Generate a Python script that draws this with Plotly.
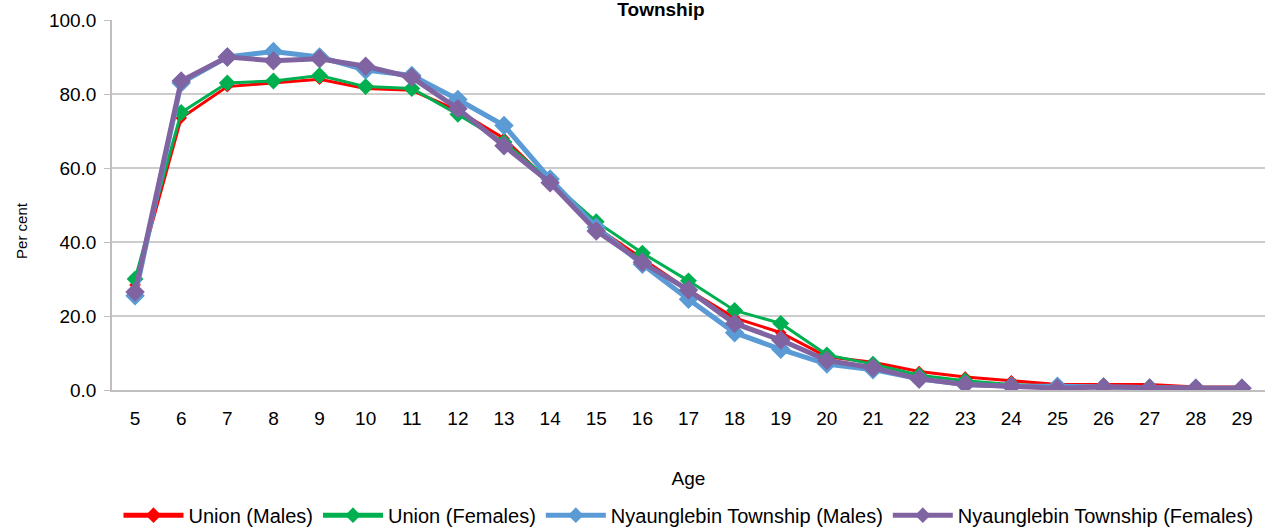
import plotly.graph_objects as go

ages = list(range(5, 30))

union_males = [28.4, 73.5, 82.0, 83.0, 84.0, 81.5, 81.0, 75.5, 68.0, 56.0, 44.0, 35.5, 27.0,
               19.5, 15.5, 9.0, 7.5, 5.0, 3.5, 2.5, 1.5, 1.5, 1.5, 0.8, 0.8]
union_females = [30.0, 75.0, 83.0, 83.5, 85.0, 82.0, 81.5, 74.5, 67.0, 56.5, 45.5, 37.0, 29.5,
                 21.5, 18.0, 9.5, 7.0, 4.0, 2.5, 1.5, 1.0, 1.0, 0.8, 0.6, 0.6]
nyaung_males = [25.5, 83.0, 90.0, 91.5, 90.0, 86.5, 85.0, 78.5, 71.5, 57.0, 44.0, 34.0, 24.5,
                15.5, 11.0, 7.0, 5.5, 3.0, 1.5, 1.0, 1.0, 0.8, 0.5, 0.5, 0.5]
nyaung_females = [26.5, 83.5, 90.0, 89.0, 89.5, 87.5, 84.5, 76.0, 66.0, 56.0, 43.0, 34.5, 27.0,
                  18.0, 13.5, 8.0, 6.0, 3.0, 1.5, 1.0, 0.5, 0.8, 0.5, 0.5, 0.5]

y_ticks = [0, 20, 40, 60, 80, 100]

series = [
    ("Union (Males)", union_males, "#ff0000", 3, 9),
    ("Union (Females)", union_females, "#00b050", 3, 13),
    ("Nyaunglebin Township (Males)", nyaung_males, "#5b9bd5", 5, 15),
    ("Nyaunglebin Township (Females)", nyaung_females, "#8064a2", 5, 15),
]

fig = go.Figure()
for name, vals, color, lw, ms in series:
    fig.add_trace(go.Scatter(
        x=ages, y=vals, name=name, mode="lines+markers",
        line=dict(color=color, width=lw),
        marker=dict(symbol="diamond", size=ms, color=color),
    ))

font_family = "Liberation Sans, Arial, sans-serif"

# y-axis title drawn as a rotated annotation so it can sit a little below centre
fig.add_annotation(
    text="Per cent", textangle=-90, showarrow=False,
    xref="paper", x=-0.078, xanchor="center",
    yref="paper", y=0.43, yanchor="middle",
    font=dict(size=15, color="black"),
)

fig.update_layout(
    width=1281, height=530,
    margin=dict(l=112, r=16, t=20, b=140, autoexpand=False),
    paper_bgcolor="white", plot_bgcolor="white",
    font=dict(family=font_family, size=19, color="black"),
    title=dict(text="<b>Township</b>", x=0.516, xanchor="center",
               y=1.0, yref="container", yanchor="top", pad=dict(t=3),
               font=dict(size=19, color="black")),
    showlegend=True,
    legend=dict(orientation="h", x=0.5, xanchor="center",
                yref="container", y=0.028, yanchor="middle",
                font=dict(size=20, color="black"), itemwidth=60,
                tracegroupgap=0, itemsizing="constant"),
    xaxis=dict(
        title=dict(text="Age", font=dict(size=19, color="black"), standoff=44),
        range=[4.5, 29.5], tickmode="array", tickvals=ages,
        ticktext=[str(a) for a in ages],
        showgrid=False, showline=True, linecolor="#bfbfbf", linewidth=1.5,
        ticks="", ticklabelstandoff=10,
        tickfont=dict(size=19, color="black"), zeroline=False,
    ),
    yaxis=dict(
        range=[0, 100], tickmode="array", tickvals=y_ticks,
        ticktext=[f"{v:.1f}" for v in y_ticks],
        showgrid=True, gridcolor="#cccccc", gridwidth=1.5,
        showline=True, linecolor="#bfbfbf", linewidth=1.5,
        ticks="outside", ticklen=6, tickcolor="#bfbfbf",
        ticklabelstandoff=4,
        tickfont=dict(size=19, color="black"), zeroline=False,
    ),
)

fig.write_html("out.html")
